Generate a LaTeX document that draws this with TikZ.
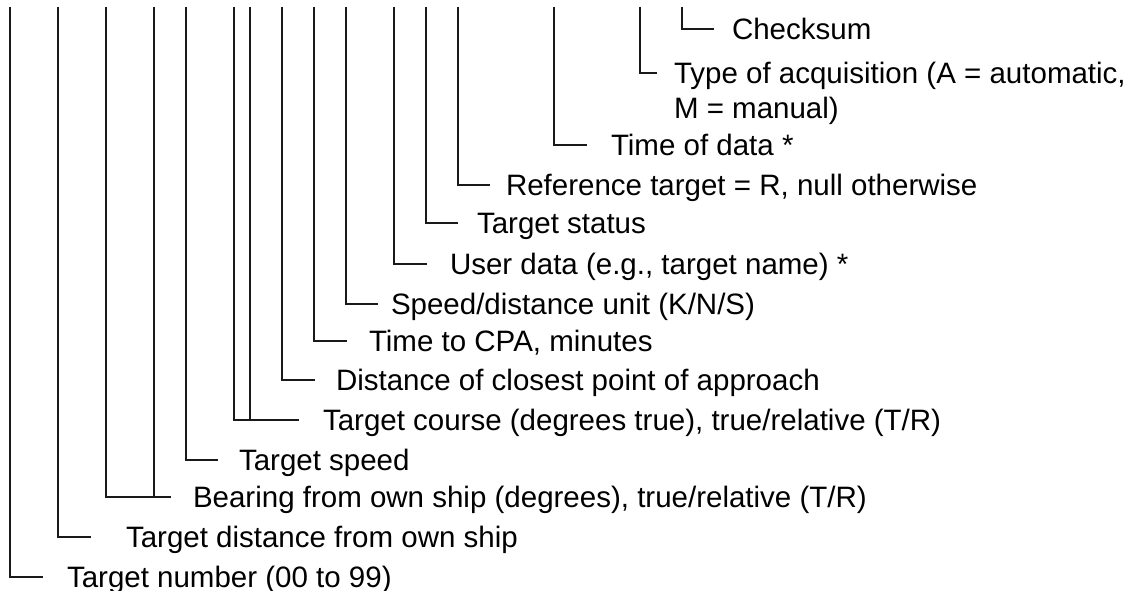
\documentclass[tikz,border=0pt]{standalone}
\usepackage{fontspec}
\setmainfont{Liberation Sans}
\begin{document}
\begin{tikzpicture}[x=1pt,y=-1pt,
  lead/.style={line width=1.1pt, draw=black!90},
  lbl/.style={anchor=base west, inner sep=0pt, outer sep=0pt, font=\fontsize{29.5}{35}\selectfont}]
\useasboundingbox (0,0) rectangle (1136,591);
\def\ty{7}
\def\dy{10.5}
% rows: vertical x, tick y, tick end x, text x
% 1 Checksum
\coordinate (v1) at (682,\ty); \coordinate (e1) at (714,29);
\node[lbl] (t1) at (732,29+\dy) {Checksum};
% 2 Type of acquisition
\coordinate (v2) at (640,\ty); \coordinate (e2) at (657,73);
\node[lbl] (t2) at (674,73+\dy) {\begin{tabular}[t]{@{}l@{}}Type of acquisition (A = automatic,\\ M = manual)\end{tabular}};
% 3 Time of data
\coordinate (v3) at (554,\ty); \coordinate (e3) at (587,145);
\node[lbl] (t3) at (611,145+\dy) {Time of data *};
% 4 Reference target
\coordinate (v4) at (458,\ty); \coordinate (e4) at (490,185);
\node[lbl] (t4) at (506,185+\dy) {Reference target = R, null otherwise};
% 5 Target status
\coordinate (v5) at (426,\ty); \coordinate (e5) at (458,223);
\node[lbl] (t5) at (477,223+\dy) {Target status};
% 6 User data
\coordinate (v6) at (394,\ty); \coordinate (e6) at (427,264);
\node[lbl] (t6) at (450,264+\dy) {User data (e.g., target name) *};
% 7 Speed/distance unit
\coordinate (v7) at (346,\ty); \coordinate (e7) at (378,304);
\node[lbl] (t7) at (391,304+\dy) {Speed/distance unit (K/N/S)};
% 8 Time to CPA
\coordinate (v8) at (314,\ty); \coordinate (e8) at (347,341);
\node[lbl] (t8) at (369,341+\dy) {Time to CPA, minutes};
% 9 Distance of CPA
\coordinate (v9) at (282,\ty); \coordinate (e9) at (315,380);
\node[lbl] (t9) at (336,380+\dy) {Distance of closest point of approach};
% 10 Target course
\coordinate (v10a) at (234,\ty); \coordinate (v10b) at (250,\ty); \coordinate (e10) at (299,420);
\node[lbl] (t10) at (323,420+\dy) {Target course (degrees true), true/relative (T/R)};
% 11 Target speed
\coordinate (v11) at (186,\ty); \coordinate (e11) at (218,460);
\node[lbl] (t11) at (239,460+\dy) {Target speed};
% 12 Bearing
\coordinate (v12a) at (106,\ty); \coordinate (v12b) at (154,\ty); \coordinate (e12) at (171,497);
\node[lbl] (t12) at (193,497+\dy) {Bearing from own ship (degrees), true/relative (T/R)};
% 13 Target distance
\coordinate (v13) at (58,\ty); \coordinate (e13) at (91,537);
\node[lbl] (t13) at (126,537+\dy) {Target distance from own ship};
% 14 Target number
\coordinate (v14) at (10,\ty); \coordinate (e14) at (43,577);
\node[lbl] (t14) at (67,577+\dy) {Target number (00 to 99)};
% leaders
\foreach \i in {1,2,3,4,5,6,7,8,9,11,13,14}{
  \draw[lead] (v\i) |- (e\i);
}
\draw[lead] (v10a) |- (e10);
\draw[lead] (v10b) -- (v10b |- e10);
\draw[lead] (v12a) |- (e12);
\draw[lead] (v12b) -- (v12b |- e12);
\end{tikzpicture}
\end{document}
